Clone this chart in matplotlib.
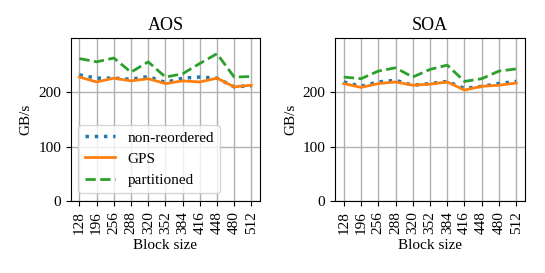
import numpy as np
import matplotlib
matplotlib.use("Agg")
import matplotlib.pyplot as plt

plt.rcParams['font.family'] = ['Liberation Serif', 'DejaVu Serif']
plt.rcParams['font.size'] = 11

block_sizes = ['128', '196', '256', '288', '320', '352', '384', '416', '448', '480', '512']

# AOS
aos_nonreordered = [232, 226, 226, 224, 229, 218, 226, 228, 226, 210, 212]
aos_gps = [228, 219, 226, 221, 225, 216, 221, 219, 226, 210, 213]
aos_partitioned = [262, 256, 263, 237, 256, 228, 234, 253, 271, 228, 229]

# SOA
soa_nonreordered = [219, 211, 219, 222, 213, 216, 220, 207, 211, 216, 220]
soa_gps = [216, 209, 216, 219, 213, 215, 219, 204, 211, 213, 217]
soa_partitioned = [228, 225, 239, 245, 228, 242, 250, 220, 225, 239, 243]

fig = plt.figure(figsize=(5.45, 2.73), dpi=100)
ax1 = fig.add_axes([0.130, 0.264, 0.347, 0.597])
ax2 = fig.add_axes([0.615, 0.264, 0.348, 0.597])

x = np.arange(len(block_sizes))

for ax, title, nr, gps, part in [(ax1, 'AOS', aos_nonreordered, aos_gps, aos_partitioned),
                                  (ax2, 'SOA', soa_nonreordered, soa_gps, soa_partitioned)]:
    ax.plot(x, nr, ':', color='tab:blue', lw=2.5, label='non-reordered')
    ax.plot(x, gps, '-', color='tab:orange', lw=2, label='GPS')
    ax.plot(x, part, '--', color='tab:green', lw=2, label='partitioned')
    ax.set_xticks(x)
    ax.set_xticklabels(block_sizes, rotation=90)
    ax.set_xlim(-0.5, len(block_sizes) - 0.5)
    ax.set_ylim(0, 300)
    ax.set_yticks([0, 100, 200])
    ax.grid(True, color='#b0b0b0', lw=1)
    ax.set_axisbelow(True)
    ax.set_title(title, fontsize=13)
    ax.set_xlabel('Block size')
    ax.set_ylabel('GB/s')

ax1.legend(loc='lower left')

fig.savefig('out.png', dpi=100)
